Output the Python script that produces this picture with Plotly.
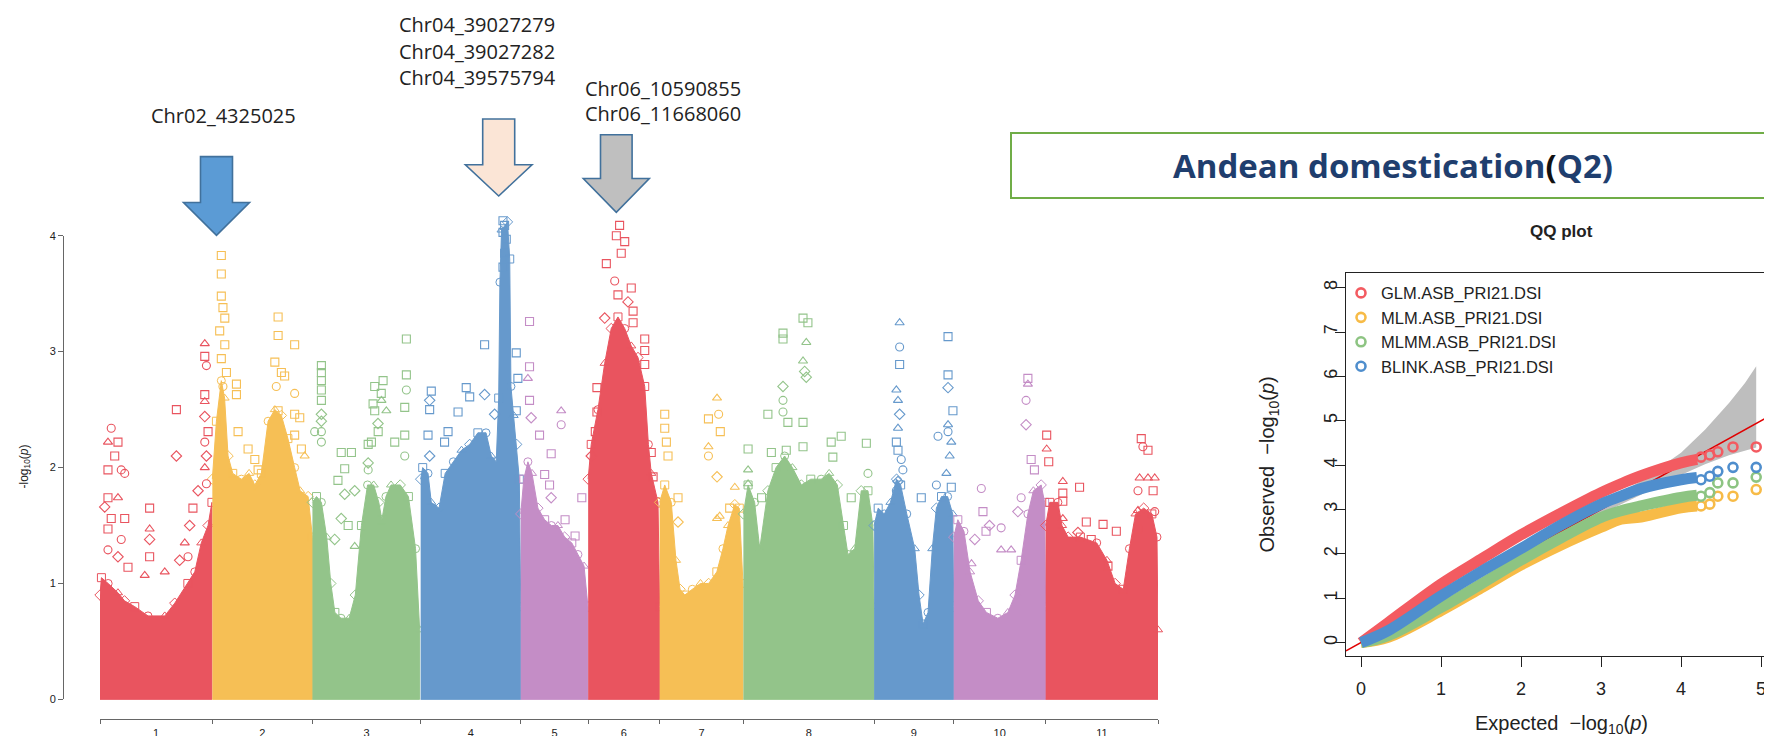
import plotly.graph_objects as go

W, H = 1772, 736

# ---------------- Manhattan data ----------------
CHROMS = ["1", "2", "3", "4", "5", "6", "7", "8", "9", "10", "11"]
CHR_LEN_MB = [55, 49, 53, 49, 33, 35, 41, 64, 39, 45, 55]
CHR_COLORS = ["#E9545F", "#F6BF55", "#93C48A", "#6699CC", "#C48DC6",
              "#E9545F", "#F6BF55", "#93C48A", "#6699CC", "#C48DC6", "#E9545F"]

# upper edge of the dense cloud: (position in Mb, -log10 p)
CHR01_ENV = [(0, 0.9), (0.7, 1.05), (4, 1.0), (8.8, 0.92), (12, 0.85), (17, 0.8), (23.5, 0.72),
             (31.7, 0.72), (36.6, 0.83), (43, 1.0), (46.4, 1.1), (49.6, 1.35), (52.9, 1.5), (54.8, 1.7)]
CHR02_ENV = [(0, 1.9), (2, 2.4), (4.4, 2.75), (6, 2.6), (7.7, 2.1), (10, 1.95), (14.2, 1.9), (18, 1.95),
             (20.8, 1.85), (24, 1.95), (27.3, 2.4), (30.6, 2.5), (33.8, 2.45), (37, 2.25), (40.3, 2.0),
             (43, 1.8), (46.9, 1.75), (49, 1.4)]
CHR03_ENV = [(0, 1.7), (2, 1.75), (4.4, 1.7), (7, 1.4), (9, 1.0), (11, 0.75), (14, 0.7), (18, 0.7),
             (21, 0.9), (24, 1.5), (27, 1.85), (30, 1.85), (32.5, 1.7), (34, 1.55), (36, 1.75),
             (38.5, 1.85), (43, 1.85), (47, 1.75), (50.5, 1.3), (52.5, 0.6)]
CHR04_ENV = [(0, 1.9), (1, 2.0), (3.6, 1.95), (5.2, 1.7), (9, 1.65), (12, 1.95), (16, 2.05), (20, 2.15),
             (24, 2.2), (28, 2.3), (32, 2.3), (34.6, 2.1), (37, 2.05), (38.2, 2.6), (38.8, 3.6),
             (39.6, 4.05), (42.5, 4.12), (43.6, 3.8), (44.2, 2.7), (45.5, 2.45), (47, 2.2), (48.3, 1.9),
             (49, 0.8)]
CHR05_ENV = [(0, 1.6), (1.5, 1.9), (3.5, 2.05), (5.5, 1.95), (8.4, 1.65), (11.7, 1.55), (15, 1.5),
             (18.2, 1.5), (21.5, 1.4), (25, 1.35), (28, 1.25), (31, 1.15), (32.9, 0.8)]
CHR06_ENV = [(0, 1.9), (1.5, 2.2), (4.8, 2.5), (8.1, 2.9), (11.3, 3.2), (14.6, 3.3), (17.9, 3.2),
             (21.1, 3.05), (24.4, 2.95), (27.7, 2.7), (29.5, 2.2), (30.9, 1.95), (34.2, 1.7), (35, 0.8)]
CHR07_ENV = [(0, 1.7), (2.5, 1.85), (5.7, 1.7), (8, 1.2), (10, 0.95), (12.3, 0.9), (16, 0.95), (20, 1.0),
             (24, 1.0), (28, 1.1), (31, 1.3), (33.5, 1.5), (36.8, 1.68), (39, 1.65), (40.8, 1.0)]
CHR08_ENV = [(0, 1.6), (2.3, 1.85), (5.5, 1.7), (8, 1.3), (12, 1.8), (16, 2.0), (20.2, 2.1), (24, 2.0),
             (28.4, 1.85), (33, 1.9), (38.1, 1.9), (42, 1.95), (46, 1.85), (49, 1.5), (51.2, 1.25),
             (54.5, 1.3), (57.7, 1.8), (61, 1.8), (63.4, 1.5), (64, 0.8)]
CHR09_ENV = [(0, 1.5), (2, 1.65), (5, 1.6), (8, 1.7), (11, 1.9), (13, 1.85), (16, 1.6), (19.9, 1.3),
             (22, 0.9), (24, 0.65), (26.4, 0.75), (28.5, 1.3), (30.5, 1.65), (33, 1.75), (36, 1.75),
             (38.5, 1.6), (39, 0.8)]
CHR10_ENV = [(0, 1.4), (2, 1.55), (5, 1.45), (8, 1.1), (12, 0.85), (16, 0.75), (21.6, 0.7), (26.5, 0.75),
             (30, 0.9), (33, 1.2), (36.3, 1.6), (39, 1.8), (42.8, 1.85), (44.5, 1.7), (45, 0.8)]
CHR11_ENV = [(0, 1.5), (2, 1.7), (6, 1.7), (8, 1.5), (11, 1.4), (17, 1.4), (25, 1.35), (30, 1.2),
             (34, 1.0), (38, 0.95), (41, 1.3), (44, 1.6), (48, 1.65), (52, 1.6), (54.5, 1.4), (55, 0.6)]

# markers standing out above the cloud: (position in Mb, -log10 p, symbol)
CHR01_HITS = [(5.5, 2.34, "c"), (3.9, 2.22, "t"), (8.8, 2.22, "s"), (3.9, 1.98, "s"), (10.4, 1.98, "c"),
              (12.1, 1.95, "c"), (7.2, 2.1, "s"), (3.9, 1.74, "s"), (8.8, 1.74, "t"), (2.3, 1.66, "d"),
              (5.5, 1.56, "s"), (12.1, 1.56, "s"), (3.9, 1.47, "s"), (10.4, 1.38, "c"), (3.9, 1.29, "c"),
              (8.8, 1.23, "d"), (13.7, 1.14, "s"), (37.4, 2.5, "s"), (37.4, 2.1, "d"), (24.3, 1.65, "s"),
              (24.3, 1.47, "t"), (24.3, 1.38, "d"), (24.3, 1.23, "s"), (21.9, 1.07, "t"), (31.7, 1.1, "t"),
              (51.3, 3.07, "t"), (51.3, 2.96, "s"), (52.1, 2.88, "c"), (51.3, 2.63, "s"), (51.3, 2.57, "t"),
              (51.3, 2.44, "d"), (52.9, 2.31, "s"), (51.3, 2.22, "c"), (52.1, 2.1, "d"), (51.3, 2.0, "t"),
              (52.1, 1.86, "c"), (48, 1.8, "d"), (45.5, 1.65, "s"), (43.9, 1.5, "d"), (41.5, 1.35, "t"),
              (43.1, 1.23, "c"), (39, 1.2, "d")]
CHR02_HITS = [(4.4, 3.83, "s"), (4.4, 3.67, "s"), (4.4, 3.48, "s"), (5.2, 3.38, "s"), (6.1, 3.29, "s"),
              (3.6, 3.18, "s"), (6.1, 3.06, "s"), (4.4, 2.94, "s"), (6.9, 2.82, "s"), (5.2, 2.7, "c"),
              (11.8, 2.72, "s"), (11.8, 2.63, "s"), (12.6, 2.31, "s"), (17.5, 2.16, "s"), (20.8, 2.07, "s"),
              (22.4, 1.98, "s"), (32.2, 3.3, "s"), (32.2, 3.14, "s"), (40.3, 3.06, "s"), (30.6, 2.91, "s"),
              (33.8, 2.82, "s"), (35.4, 2.79, "s"), (31.3, 2.7, "c"), (40.3, 2.64, "c"), (32.2, 2.49, "s"),
              (40.3, 2.46, "s"), (42.8, 2.43, "s"), (40.3, 2.28, "s"), (43.6, 2.16, "s"), (45.2, 2.1, "t")]
CHR03_HITS = [(4.4, 2.88, "s"), (4.4, 2.82, "s"), (4.4, 2.75, "s"), (4.4, 2.67, "s"), (4.4, 2.58, "s"),
              (4.4, 2.46, "d"), (4.4, 2.4, "d"), (4.4, 2.31, "c"), (4.4, 2.22, "c"), (1.1, 2.31, "c"),
              (14.1, 2.13, "s"), (19.1, 2.13, "s"), (15.8, 1.99, "s"), (12.5, 1.89, "s"), (15.8, 1.77, "d"),
              (20.7, 1.8, "d"), (14.1, 1.56, "d"), (17.5, 1.5, "s"), (10.9, 1.38, "d"), (20.7, 1.32, "t"),
              (30.5, 2.7, "s"), (33.7, 2.64, "s"), (30.5, 2.49, "s"), (32.2, 2.31, "s"), (28.9, 2.22, "s"),
              (27.3, 2.04, "d"), (46, 3.11, "s"), (46, 2.8, "s"), (46, 2.67, "c"), (34.6, 2.75, "s"),
              (33.8, 2.58, "t"), (29.7, 2.55, "s"), (36.2, 2.49, "t"), (32.1, 2.38, "d"), (45.2, 2.52, "s"),
              (45.2, 2.28, "s"), (27.3, 2.2, "s"), (40.3, 2.22, "s"), (45.2, 2.1, "c"), (27.3, 1.98, "c")]
CHR04_HITS = [(5.2, 2.66, "s"), (4.4, 2.58, "d"), (4.4, 2.5, "s"), (3.6, 2.28, "s"), (4.4, 2.1, "d"),
              (22.3, 2.69, "s"), (24, 2.61, "s"), (31.3, 2.63, "d"), (18.3, 2.48, "s"), (31.3, 3.06, "s"),
              (46.8, 2.99, "s"), (47.6, 2.77, "s"), (46.8, 2.49, "s"), (36.2, 2.46, "d"), (13.4, 2.31, "s"),
              (11.7, 2.22, "s"), (40.3, 4.13, "s"), (41.1, 4.09, "s"), (40.3, 4.03, "s"), (41.9, 3.97, "s"),
              (41.1, 3.85, "s"), (40.3, 3.73, "s")]
CHR05_HITS = [(4.3, 3.26, "s"), (4.3, 2.87, "s"), (3.5, 2.77, "t"), (4.3, 2.58, "s"), (5.1, 2.43, "d"),
              (19.8, 2.49, "t"), (19.8, 2.37, "c"), (14.9, 2.12, "s"), (11.7, 1.94, "s"), (14.1, 1.85, "s"),
              (14.9, 1.74, "d"), (21.7, 1.55, "s"), (26.6, 1.41, "s"), (29.9, 1.74, "s"), (9.2, 2.28, "s")]
CHR06_HITS = [(15.4, 4.09, "s"), (13.8, 4.0, "s"), (17.9, 3.95, "s"), (16.2, 3.85, "s"), (8.9, 3.76, "s"),
              (13, 3.61, "c"), (21.1, 3.55, "s"), (14.6, 3.49, "s"), (19.5, 3.43, "d"), (22, 3.35, "s"),
              (8.1, 3.29, "d"), (22, 3.25, "s"), (27.7, 3.11, "s"), (27.7, 3.01, "s"), (27.7, 2.89, "s"),
              (4.3, 2.69, "s"), (4.3, 2.48, "s"), (3.5, 2.31, "s"), (1.5, 2.1, "d"), (30.9, 2.13, "s"),
              (31.8, 1.92, "s")]
CHR07_HITS = [(2.5, 2.46, "s"), (2.5, 2.34, "s"), (3.3, 2.22, "s"), (4.1, 2.1, "s"), (9, 1.74, "s"),
              (9, 1.53, "d"), (28.1, 2.6, "t"), (28.9, 2.46, "c"), (23.9, 2.42, "s"), (29.7, 2.31, "s"),
              (23.9, 2.18, "t"), (23.9, 2.1, "c"), (28.1, 1.92, "d"), (28.1, 1.56, "t"), (36.8, 1.83, "t"),
              (34.3, 1.65, "s"), (29.4, 1.58, "t")]
CHR08_HITS = [(29.2, 3.29, "s"), (31.6, 3.25, "s"), (19.4, 3.16, "s"), (19.4, 3.11, "s"), (30.8, 3.08, "t"),
              (29.2, 2.92, "t"), (30, 2.83, "d"), (30.8, 2.78, "d"), (19.4, 2.7, "d"), (19.4, 2.58, "c"),
              (12, 2.46, "s"), (19.4, 2.48, "c"), (21.8, 2.39, "s"), (29.2, 2.39, "s"), (2.3, 2.16, "s"),
              (13.7, 2.13, "s"), (21, 2.15, "s"), (29.2, 2.18, "s"), (43, 2.22, "s"), (47.9, 2.27, "s"),
              (43.8, 2.09, "s"), (60.2, 2.21, "s"), (61, 1.95, "c"), (2.3, 1.98, "t"), (2.3, 1.86, "t"),
              (8.9, 1.74, "s"), (52.8, 1.74, "s")]
CHR09_HITS = [(12.5, 3.25, "t"), (12.5, 3.04, "c"), (12.5, 2.89, "s"), (10.9, 2.67, "t"), (11.7, 2.58, "t"),
              (12.5, 2.46, "d"), (11.7, 2.34, "t"), (10.9, 2.22, "s"), (11.7, 2.15, "s"), (13.3, 2.07, "c"),
              (14.1, 1.98, "c"), (11.7, 1.88, "d"), (10.9, 1.8, "c"), (23.1, 1.74, "s"), (36.2, 3.13, "s"),
              (36.2, 2.8, "s"), (36.2, 2.69, "d"), (38.6, 2.49, "s"), (36.2, 2.37, "t"), (36.2, 2.31, "c"),
              (31.3, 2.27, "c"), (37.8, 2.22, "t"), (37, 2.1, "t"), (35.4, 1.95, "t"), (30.5, 1.85, "c"),
              (37.8, 1.83, "s")]
CHR10_HITS = [(36.3, 2.77, "s"), (36.3, 2.72, "t"), (35.4, 2.58, "c"), (35.4, 2.37, "d"), (13.5, 1.82, "c"),
              (14.3, 1.62, "s"), (17.5, 1.5, "d"), (15.8, 1.45, "s"), (23.2, 1.48, "c"), (23.2, 1.29, "t"),
              (28.1, 1.29, "t"), (37.9, 2.07, "s"), (39.5, 1.98, "s"), (33, 1.74, "c"), (31.4, 1.62, "d"),
              (10.3, 1.38, "d"), (8.7, 1.17, "t")]
CHR11_HITS = [(46.8, 2.25, "s"), (47.6, 2.18, "c"), (50.1, 2.15, "s"), (46, 1.91, "t"), (50.1, 1.91, "t"),
              (53.4, 1.91, "t"), (45.2, 1.8, "c"), (52.6, 1.8, "s"), (45.2, 1.63, "t"), (45.2, 1.47, "s"),
              (53.4, 1.62, "c"), (8.4, 1.88, "t"), (8.4, 1.78, "s"), (8.4, 1.71, "s"), (8.4, 1.56, "t"),
              (16.6, 1.83, "s"), (19.9, 1.53, "s"), (28.1, 1.51, "s"), (34.6, 1.45, "s"), (22.3, 1.38, "s"),
              (30.5, 1.15, "s"), (15.8, 1.44, "d"), (0.5, 2.28, "s"), (0.5, 2.16, "t"), (1.5, 2.05, "s")]

CHR_ENVELOPES = [CHR01_ENV, CHR02_ENV, CHR03_ENV, CHR04_ENV, CHR05_ENV, CHR06_ENV,
                 CHR07_ENV, CHR08_ENV, CHR09_ENV, CHR10_ENV, CHR11_ENV]
CHR_HITS = [CHR01_HITS, CHR02_HITS, CHR03_HITS, CHR04_HITS, CHR05_HITS, CHR06_HITS,
            CHR07_HITS, CHR08_HITS, CHR09_HITS, CHR10_HITS, CHR11_HITS]

SNP_LABELS_CHR02 = ["Chr02_4325025"]
SNP_LABELS_CHR04 = ["Chr04_39027279", "Chr04_39027282", "Chr04_39575794"]
SNP_LABELS_CHR06 = ["Chr06_10590855", "Chr06_11668060"]

# ---------------- QQ plot data ----------------
QQ_MODELS = ["GLM.ASB_PRI21.DSI", "MLM.ASB_PRI21.DSI", "MLMM.ASB_PRI21.DSI", "BLINK.ASB_PRI21.DSI"]
QQ_COLORS = ["#F35B61", "#F7BB47", "#8DC482", "#4F8ECD"]
QQ_EXPECTED = [0, 0.34, 1.0, 1.5, 2.0, 2.5, 3.0, 3.25, 3.5, 4.0, 4.2]
GLM_OBS = [0, 0.45, 1.32, 1.88, 2.43, 2.92, 3.38, 3.58, 3.76, 4.05, 4.13]
MLM_OBS = [0, 0.12, 0.72, 1.23, 1.75, 2.2, 2.6, 2.78, 2.83, 3.04, 3.08]
MLMM_OBS = [0, 0.16, 0.79, 1.32, 1.86, 2.36, 2.82, 2.97, 3.08, 3.27, 3.32]
BLINK_OBS = [0, 0.27, 1.05, 1.6, 2.12, 2.65, 3.12, 3.3, 3.47, 3.67, 3.72]
TAIL_EXPECTED = [4.25, 4.36, 4.46, 4.65, 4.94]
GLM_TAIL = [4.18, 4.23, 4.3, 4.41, 4.41]
MLM_TAIL = [3.08, 3.12, 3.3, 3.3, 3.45]
MLMM_TAIL = [3.3, 3.38, 3.6, 3.6, 3.73]
BLINK_TAIL = [3.67, 3.75, 3.86, 3.95, 3.95]
BAND_EXPECTED = [2.0, 2.5, 3.0, 3.5, 4.0, 4.3, 4.6, 4.8, 4.94]
BAND_UPPER = [2.03, 2.55, 3.08, 3.65, 4.28, 4.8, 5.4, 5.85, 6.23]
BAND_LOWER = [1.97, 2.44, 2.9, 3.33, 3.78, 4.02, 4.22, 4.32, 4.4]

QQ_X_RANGE = [-0.1875, 5.2]
QQ_Y_RANGE = [-0.31, 8.337]


def fx(px):
    return px / W


def fy(py):
    return 1 - py / H


SYMBOLS = {"s": "square-open", "d": "diamond-open", "t": "triangle-up-open", "c": "circle-open"}
EDGE_SYMBOLS = ["diamond-open", "square-open", "circle-open", "triangle-up-open"]

fig = go.Figure()

starts = [sum(CHR_LEN_MB[:i]) for i in range(len(CHR_LEN_MB))]
bounds = starts + [sum(CHR_LEN_MB)]
mids = [s + l / 2 for s, l in zip(starts, CHR_LEN_MB)]

# dense cloud for every chromosome
for i, env in enumerate(CHR_ENVELOPES):
    xs = [starts[i] + p for p, v in env]
    ys = [v for p, v in env]
    fig.add_trace(go.Scatter(
        x=xs + [xs[-1], xs[0]], y=ys + [0, 0],
        mode="lines", fill="toself", fillcolor=CHR_COLORS[i],
        line=dict(color=CHR_COLORS[i], width=1),
        hoverinfo="skip", showlegend=False, xaxis="x", yaxis="y"))
    # ragged edge of the cloud: open markers on the read edge points
    fig.add_trace(go.Scatter(
        x=xs, y=ys, mode="markers", cliponaxis=False,
        marker=dict(symbol=[EDGE_SYMBOLS[k % 4] for k in range(len(xs))], size=8,
                    color=CHR_COLORS[i], line=dict(width=1)),
        hoverinfo="skip", showlegend=False, xaxis="x", yaxis="y"))

# outlying SNPs
for i, hits in enumerate(CHR_HITS):
    for code, symbol in SYMBOLS.items():
        pts = [h for h in hits if h[2] == code]
        if not pts:
            continue
        fig.add_trace(go.Scatter(
            x=[starts[i] + p for p, v, s in pts], y=[v for p, v, s in pts],
            mode="markers", cliponaxis=False,
            marker=dict(symbol=symbol, size=8, color=CHR_COLORS[i], line=dict(width=1.1)),
            name="Chr " + CHROMS[i], showlegend=False, xaxis="x", yaxis="y"))

# carrier trace for the visible -log10(p) axis of the Manhattan plot
fig.add_trace(go.Scatter(x=[0], y=[0], mode="markers", marker=dict(opacity=0),
                         hoverinfo="skip", showlegend=False, xaxis="x", yaxis="y2"))

# QQ plot: confidence band, null line, observed values
fig.add_trace(go.Scatter(
    x=BAND_EXPECTED + BAND_EXPECTED[::-1], y=BAND_UPPER + BAND_LOWER[::-1],
    mode="lines", fill="toself", fillcolor="#BEBEBE", line=dict(width=0),
    hoverinfo="skip", showlegend=False, xaxis="x2", yaxis="y3"))
fig.add_trace(go.Scatter(
    x=QQ_X_RANGE, y=QQ_X_RANGE, mode="lines", line=dict(color="#E00000", width=1.6),
    hoverinfo="skip", showlegend=False, xaxis="x2", yaxis="y3"))

qq_obs = [GLM_OBS, MLM_OBS, MLMM_OBS, BLINK_OBS]
qq_tail = [GLM_TAIL, MLM_TAIL, MLMM_TAIL, BLINK_TAIL]
for name, color, obs, tail in zip(QQ_MODELS, QQ_COLORS, qq_obs, qq_tail):
    fig.add_trace(go.Scatter(
        x=QQ_EXPECTED, y=obs, mode="lines", line=dict(color=color, width=11, shape="spline"),
        hoverinfo="skip", showlegend=False, xaxis="x2", yaxis="y3"))
    fig.add_trace(go.Scatter(
        x=TAIL_EXPECTED, y=tail, mode="markers", name=name,
        marker=dict(symbol="circle-open", size=9, color=color, line=dict(width=2.6)),
        xaxis="x2", yaxis="y3"))

axis_font = dict(family="Liberation Sans, Arial, sans-serif", color="#222")

fig.update_layout(
    width=W, height=H,
    margin=dict(l=0, r=0, t=0, b=0),
    paper_bgcolor="white", plot_bgcolor="rgba(0,0,0,0)",
    xaxis=dict(domain=[fx(92), fx(1150)], range=[0, bounds[-1]], anchor="free", position=fy(717),
               showline=True, linecolor="#666", linewidth=1, showgrid=False, zeroline=False,
               tickmode="array", tickvals=mids, ticktext=CHROMS, ticks="",
               tickfont=dict(size=11, **axis_font), ticklabelstandoff=3,
               minor=dict(tickmode="array", tickvals=bounds, ticks="outside", ticklen=4,
                          tickcolor="#666")),
    yaxis=dict(domain=[fy(705), fy(200)], range=[(696.7 - 705) / 117.8, (696.7 - 200) / 117.8],
               anchor="x", visible=False),
    yaxis2=dict(domain=[fy(696.7), fy(225.4)], range=[0, 4], anchor="free", position=fx(55),
                showline=True, linecolor="#666", linewidth=1, showgrid=False, zeroline=False,
                tickmode="array", tickvals=[0, 1, 2, 3, 4], ticks="outside", ticklen=5,
                tickcolor="#666", tickfont=dict(size=11, **axis_font)),
    xaxis2=dict(domain=[fx(1338), fx(1769)], range=QQ_X_RANGE, anchor="y3",
                showline=True, mirror=True, linecolor="#222", linewidth=1.2, showgrid=False,
                zeroline=False, tickmode="array", tickvals=[0, 1, 2, 3, 4, 5], ticks="outside",
                ticklen=10, tickcolor="#222", tickfont=dict(size=18, **axis_font),
                ticklabelstandoff=6),
    yaxis3=dict(domain=[fy(653), fy(263)], range=QQ_Y_RANGE, anchor="x2",
                showline=True, mirror=True, linecolor="#222", linewidth=1.2, showgrid=False,
                zeroline=False, tickmode="array", tickvals=list(range(9)), ticks="outside",
                ticklen=10, tickcolor="#222", tickangle=-90, tickfont=dict(size=18, **axis_font),
                ticklabelstandoff=-9),
    legend=dict(x=fx(1333), y=fy(266), xanchor="left", yanchor="top",
                bgcolor="rgba(0,0,0,0)", borderwidth=0, tracegroupgap=0,
                font=dict(size=16.5, **axis_font)),
)

annotations = []


def label(text, px, py, size=20, family="Open Sans, sans-serif", color="#222", angle=0):
    annotations.append(dict(text=text, x=fx(px), y=fy(py), xref="paper", yref="paper",
                            xanchor="center", yanchor="middle", showarrow=False, textangle=angle,
                            font=dict(size=size, family=family, color=color)))


label(SNP_LABELS_CHR02[0], 215.7, 103)
for k, t in enumerate(SNP_LABELS_CHR04):
    label(t, 469, 11 + 27 * k)
for k, t in enumerate(SNP_LABELS_CHR06):
    label(t, 655, 76 + 25 * k)

label("-log<sub>10</sub>(<i>p</i>)", 16, 460, size=12,
      family="Liberation Sans, Arial, sans-serif", angle=-90)
label("<b>QQ plot</b>", 1553, 221, size=17, family="Liberation Sans, Arial, sans-serif")
label("Observed  \u2212log<sub>10</sub>(<i>p</i>)", 1261, 458, size=20,
      family="Liberation Sans, Arial, sans-serif", angle=-90)
label("Expected  \u2212log<sub>10</sub>(<i>p</i>)", 1553, 722, size=20,
      family="Liberation Sans, Arial, sans-serif")
label("<b>Andean domestication<span style='color:#111'>(</span>Q2)</b>", 1385, 154, size=33,
      family="Open Sans, sans-serif", color="#1F3E6E")

fig.update_layout(annotations=annotations)


def block_arrow(cx, shaft_half, top, neck, head_half, tip, fill):
    pts = [(cx - shaft_half, top), (cx + shaft_half, top), (cx + shaft_half, neck),
           (cx + head_half, neck), (cx, tip), (cx - head_half, neck), (cx - shaft_half, neck)]
    path = "M " + " L ".join("%.5f,%.5f" % (fx(a), fy(b)) for a, b in pts) + " Z"
    return dict(type="path", path=path, xref="paper", yref="paper",
                fillcolor=fill, line=dict(color="#41719C", width=1.6), layer="above")


shapes = [
    block_arrow(208.5, 16, 145, 191.7, 33, 225, "#5B9BD5"),
    block_arrow(490.7, 16, 106.7, 153.3, 33.3, 185, "#FBE5D6"),
    block_arrow(608.3, 15.8, 122.7, 167.3, 33, 201.7, "#BFBFBF"),
    dict(type="rect", xref="paper", yref="paper", x0=fx(1003), x1=fx(1765), y0=fy(187), y1=fy(121),
         line=dict(color="#70AD47", width=2), fillcolor="rgba(0,0,0,0)"),
]
fig.update_layout(shapes=shapes)

fig.write_html("out.html")
